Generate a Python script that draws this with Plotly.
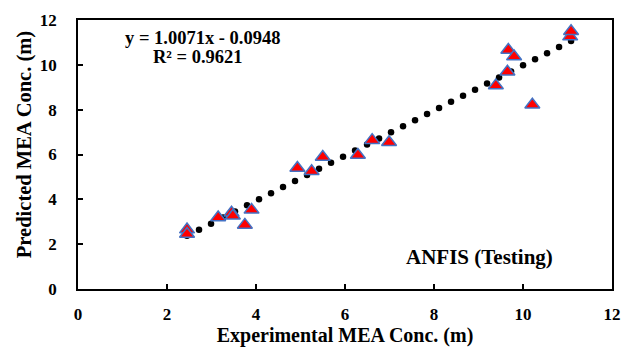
import numpy as np
import plotly.graph_objects as go

# Experimental vs predicted (ANFIS testing)
experimental = [2.45, 2.45, 3.15, 3.45, 3.48, 3.75, 3.90, 4.93, 5.25, 5.50, 6.29,
                6.61, 6.99, 9.39, 9.65, 9.67, 9.80, 10.21, 11.06, 11.08]
predicted = [2.65, 2.45, 3.19, 3.40, 3.27, 2.86, 3.53, 5.40, 5.25, 5.89, 5.98,
             6.64, 6.55, 9.08, 9.69, 10.66, 10.37, 8.22, 11.26, 11.50]

slope = 1.0071
intercept = -0.0948
r2 = 0.9621
n_trend_dots = 33

tick_vals = [0, 2, 4, 6, 8, 10, 12]

x_trend = np.linspace(min(experimental), max(experimental), n_trend_dots)
y_trend = slope * x_trend + intercept

font_family = "Liberation Serif, Times New Roman, serif"

fig = go.Figure()
fig.add_trace(go.Scatter(
    x=x_trend, y=y_trend, mode="markers",
    marker=dict(symbol="circle", size=6.5, color="black", line=dict(width=0)),
    hoverinfo="skip", showlegend=False))
fig.add_trace(go.Scatter(
    x=experimental, y=predicted, mode="markers",
    marker=dict(symbol="triangle-up", size=13, color="#FF0000",
                line=dict(color="#4472C4", width=1.5)),
    showlegend=False))

fig.add_annotation(
    text=f"<b>y = {slope:.4f}x - {abs(intercept):.4f}</b>",
    xref="paper", yref="paper", x=0.233, y=0.933, xanchor="center", yanchor="middle",
    showarrow=False, font=dict(family=font_family, size=18.5, color="black"))
fig.add_annotation(
    text=f"<b>R² = {r2:.4f}</b>",
    xref="paper", yref="paper", x=0.2247, y=0.861, xanchor="center", yanchor="middle",
    showarrow=False, font=dict(family=font_family, size=18.5, color="black"))
fig.add_annotation(
    text="<b>ANFIS (Testing)</b>", xref="paper", yref="paper", x=0.893, y=0.12,
    xanchor="right", yanchor="middle", showarrow=False,
    font=dict(family=font_family, size=21, color="black"))
fig.add_annotation(
    text="<b>Predicted MEA Conc. (m)</b>", xref="paper", yref="paper",
    x=-0.101, y=0.535, xanchor="center", yanchor="middle", textangle=-90,
    showarrow=False, font=dict(family=font_family, size=20.5, color="black"))

axis_common = dict(
    range=[0, 12], tickvals=tick_vals, ticktext=[f"<b>{v}</b>" for v in tick_vals],
    ticks="inside", ticklen=5, tickwidth=1.5,
    tickcolor="black", showline=True, linecolor="black", linewidth=1.8,
    mirror=True, showgrid=False, zeroline=False, automargin=False,
    tickfont=dict(family=font_family, size=17, color="black"))

fig.update_xaxes(**axis_common, ticklabelstandoff=9,
                 title=dict(text="<b>Experimental MEA Conc. (m)</b>",
                            font=dict(family=font_family, size=20, color="black"),
                            standoff=5))
fig.update_yaxes(**axis_common, ticklabelstandoff=16)

# page body has an 8px default margin; compensate so the plot lands where the reference has it
fig.update_layout(
    width=621, height=343,
    margin=dict(l=70, r=17, t=12, b=62),
    paper_bgcolor="white", plot_bgcolor="white",
    font=dict(family=font_family, color="black"))

fig.write_html("out.html")
